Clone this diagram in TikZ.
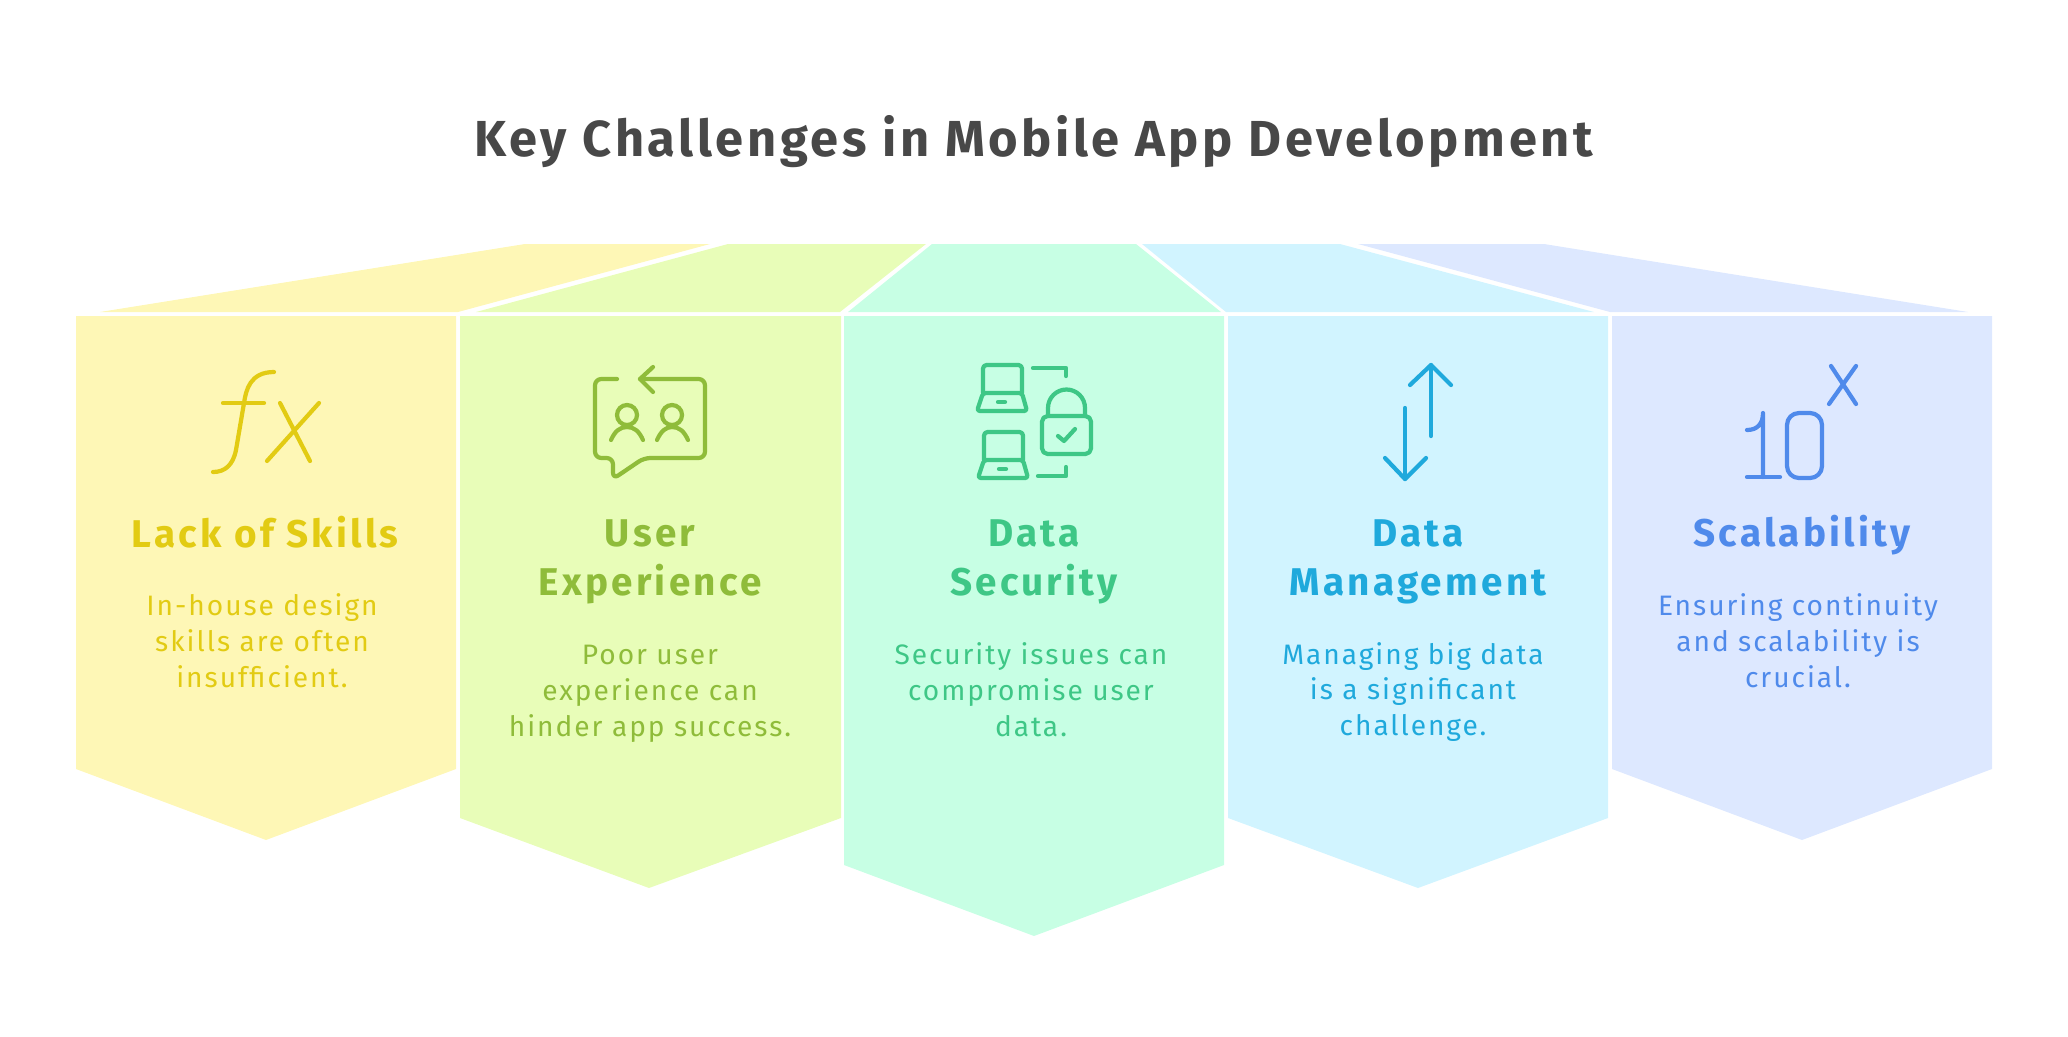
\documentclass[tikz,border=0pt]{standalone}
\usepackage{fontspec}
\setmainfont{Fira Sans}
\usetikzlibrary{positioning}
\definecolor{yellowfill}{HTML}{FEF7B6}
\definecolor{yellowtext}{HTML}{E2CB13}
\definecolor{limefill}{HTML}{E8FDB8}
\definecolor{limetext}{HTML}{8FBC3A}
\definecolor{mintfill}{HTML}{C7FFE4}
\definecolor{minttext}{HTML}{3EC786}
\definecolor{skyfill}{HTML}{D1F4FF}
\definecolor{skytext}{HTML}{1FA9DC}
\definecolor{bluefill}{HTML}{DDE8FF}
\definecolor{bluetext}{HTML}{4F8AEB}
\definecolor{titletext}{HTML}{484848}
\tikzset{x=0.05cm, y=-0.05cm,
    title/.style={
        text=titletext,
        font=\fontsize{72}{80}\selectfont\bfseries\addfontfeatures{LetterSpace=7.2}},
    heading/.style={
        align=center,
        inner sep=0pt,
        font=\fontsize{55}{70}\selectfont\bfseries\addfontfeatures{LetterSpace=8.5}},
    body/.style={
        align=center,
        inner sep=0pt,
        font=\fontsize{40}{51}\selectfont\addfontfeatures{LetterSpace=7}},
    iconline/.style={
        line width=6pt,
        line cap=round,
        line join=round}}
\begin{document}
\begin{tikzpicture}
        \useasboundingbox (0,0) rectangle (2068,1036);

        \node[title] (maintitle) at (1034,142) {Key Challenges in Mobile App Development};

        % roofs
        \fill[yellowfill] (100,312) -- (525,244) -- (710,244) -- (458,312) -- cycle;
        \fill[limefill] (476,312) -- (728,244) -- (926,244) -- (840,312) -- cycle;
        \fill[mintfill] (848,312) -- (932,244) -- (1136,244) -- (1221,312) -- cycle;
        \fill[skyfill] (1226,312) -- (1142,244) -- (1340,244) -- (1594,312) -- cycle;
        \fill[bluefill] (1610,312) -- (1358,244) -- (1544,244) -- (1968,312) -- cycle;

        % panels
        \fill[yellowfill] (76,316) -- (456,316) -- (456,769) -- (266,840) -- (76,769) -- cycle;
        \fill[limefill] (460,316) -- (841,316) -- (841,818) -- (649,888) -- (460,818) -- cycle;
        \fill[mintfill] (844,316) -- (1224,316) -- (1224,865) -- (1034,936) -- (844,865) -- cycle;
        \fill[skyfill] (1228,316) -- (1608,316) -- (1608,818) -- (1418,888) -- (1228,818) -- cycle;
        \fill[bluefill] (1612,316) -- (1992,316) -- (1992,769) -- (1802,840) -- (1612,769) -- cycle;

        % fx
        \draw[iconline, yellowtext] (274,372) .. controls (250,372) and (246,390) .. (244,403) -- (236,450) .. controls (233,465) and (225,472) .. (213,472);
        \draw[iconline, yellowtext] (223,403) -- (264,403);
        \draw[iconline, yellowtext] (280,403) -- (310,461);
        \draw[iconline, yellowtext] (319,403) -- (267,461);

        % people in a bubble
        \draw[iconline, limetext, rounded corners=9] (617,379) -- (595,379) -- (595,458) -- (613,458) -- (613,479) -- (644,458) -- (705,458) -- (705,379) -- (640,379);
        \draw[iconline, limetext] (653,367) -- (640,379) -- (653,392);
        \draw[iconline, limetext] (627,415) circle (10);
        \draw[iconline, limetext] (611,440) .. controls (615,431) and (620,427) .. (627,427) .. controls (634,427) and (639,431) .. (643,440);
        \draw[iconline, limetext] (672,415) circle (10);
        \draw[iconline, limetext] (657,440) .. controls (661,431) and (666,427) .. (672,427) .. controls (679,427) and (684,431) .. (688,440);

        % laptops and lock
        \draw[iconline, minttext, rounded corners=5] (983,393) -- (983,365) -- (1022,365) -- (1022,393);
        \draw[iconline, minttext, rounded corners=4] (983,393) -- (1022,393) -- (1027,411) -- (977,411) -- cycle;
        \draw[iconline, minttext] (998,402) -- (1005,402);
        \draw[iconline, minttext, rounded corners=5] (984,460) -- (984,432) -- (1023,432) -- (1023,460);
        \draw[iconline, minttext, rounded corners=4] (984,460) -- (1023,460) -- (1028,478) -- (978,478) -- cycle;
        \draw[iconline, minttext] (999,469) -- (1006,469);
        \draw[iconline, minttext] (1033,368) -- (1066,368) -- (1066,376);
        \draw[iconline, minttext] (1038,476) -- (1066,476) -- (1066,467);
        \draw[iconline, minttext, rounded corners=8] (1042,416) rectangle (1091,454);
        \draw[iconline, minttext] (1048,416) -- (1048,408) arc[start angle=180, end angle=360, radius=18.5] -- (1085,416);
        \draw[iconline, minttext] (1058,436) -- (1064,441) -- (1075,429);

        % arrows
        \draw[iconline, skytext] (1431,436) -- (1431,365);
        \draw[iconline, skytext] (1410,385) -- (1431,365) -- (1451,385);
        \draw[iconline, skytext] (1405,408) -- (1405,479);
        \draw[iconline, skytext] (1385,458) -- (1405,479) -- (1426,458);

        % ten to the x
        \draw[iconline, bluetext] (1747,430) .. controls (1757,430) and (1763,424) .. (1763,413) -- (1763,477);
        \draw[iconline, bluetext] (1747,477) -- (1780,477);
        \draw[iconline, bluetext, rounded corners=17] (1787,413) rectangle (1822,478);
        \draw[iconline, bluetext] (1831,366) -- (1856,404);
        \draw[iconline, bluetext] (1856,366) -- (1829,404);

        % headings
        \node[heading, text=yellowtext] (skillshead) at (265,532) {Lack of Skills};
        \node[heading, text=limetext] (userhead) at (650,562) {User\\Experience};
        \node[heading, text=minttext] (securityhead) at (1034,562) {Data\\Security};
        \node[heading, text=skytext] (datahead) at (1418,562) {Data\\Management};
        \node[heading, text=bluetext] (scalehead) at (1802,535) {Scalability};

        % descriptions
        \node[body, text=yellowtext] (skillsbody) at (262,641) {In-house design\\skills are often\\insufficient.};
        \node[body, text=limetext] (userbody) at (650,694) {Poor user\\experience can\\hinder app success.};
        \node[body, text=minttext] (securitybody) at (1031,690) {Security issues can\\compromise user\\data.};
        \node[body, text=skytext] (databody) at (1413,692) {Managing big data\\is a significant\\challenge.};
        \node[body, text=bluetext] (scalebody) at (1798,641) {Ensuring continuity\\and scalability is\\crucial.};
    \end{tikzpicture}
\end{document}
